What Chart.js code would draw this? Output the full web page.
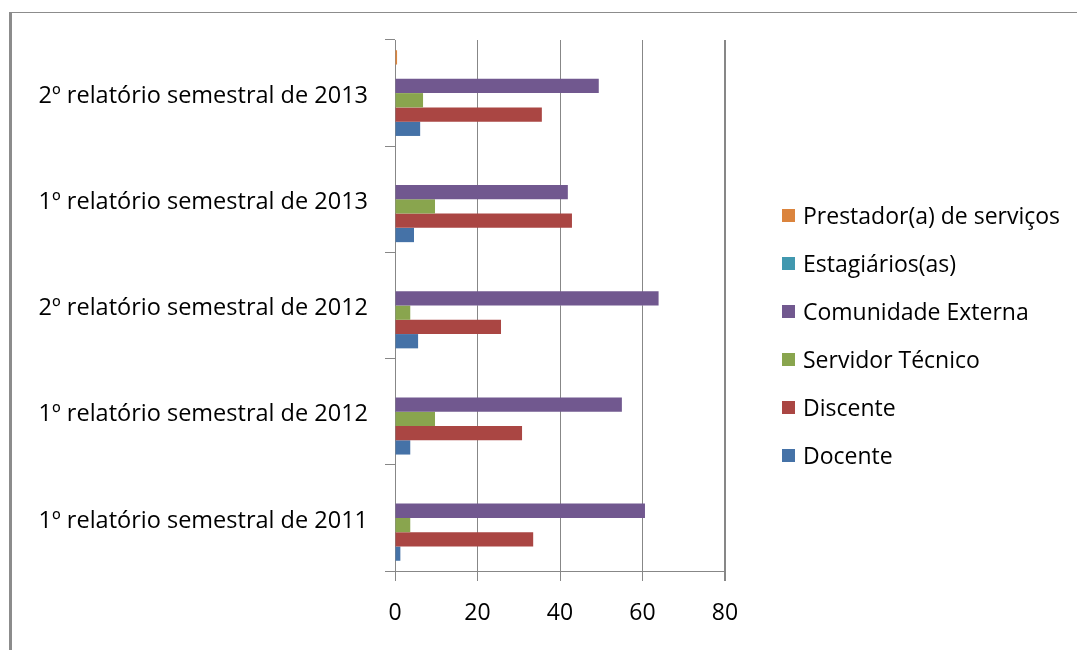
<!DOCTYPE html>
<html lang="pt">
<head>
<meta charset="utf-8">
<title>Relatórios semestrais</title>
<script src="https://cdn.jsdelivr.net/npm/chart.js@4.4.0/dist/chart.umd.min.js"></script>
<style>
    html, body { margin: 0; padding: 0; background: #fff; }
    #frame { position: absolute; left: 0; top: 0; width: 1077px; height: 650px; overflow: hidden; }
    #border { position: absolute; left: 9px; top: 12px; width: 1080px; height: 660px;
              border-left: 3px solid #8c8c8c; border-top: 1px solid #8c8c8c; }
    #wrap { position: absolute; left: 0; top: 0; width: 1077px; height: 650px; }
    #legend { position: absolute; left: 782px; top: 191px; margin: 0; padding: 0; list-style: none;
              font-family: 'Open Sans', sans-serif; font-size: 23px; color: #000; }
    #legend li { height: 48px; display: flex; align-items: center; white-space: nowrap; }
    #legend .box { display: inline-block; width: 13px; height: 13px; margin-right: 8px; }
</style>
</head>
<body>
<div id="frame">
    <div id="border"></div>
    <div id="wrap"><canvas id="chart"></canvas></div>
    <ul id="legend"></ul>
</div>

<script>
    const categories = [
        '1º relatório semestral de 2011',
        '1º relatório semestral de 2012',
        '2º relatório semestral de 2012',
        '1º relatório semestral de 2013',
        '2º relatório semestral de 2013'
    ];

    const docente     = [1.3, 3.7, 5.6, 4.6, 6.1];
    const discente    = [33.5, 30.8, 25.7, 42.9, 35.6];
    const servidor    = [3.7, 9.7, 3.7, 9.7, 6.8];
    const comunidade  = [60.6, 55.0, 63.9, 41.9, 49.4];
    const estagiarios = [0, 0, 0, 0, 0];
    const prestador   = [0, 0, 0, 0, 0.5];

    const xTicks = [0, 20, 40, 60, 80];

    // top bar of each group first, so the legend reads the same way
    const series = [
        { label: 'Prestador(a) de serviços', data: prestador,   color: '#DB843D' },
        { label: 'Estagiários(as)',          data: estagiarios, color: '#4198AF' },
        { label: 'Comunidade Externa',       data: comunidade,  color: '#71588F' },
        { label: 'Servidor Técnico',         data: servidor,    color: '#89A54E' },
        { label: 'Discente',                 data: discente,    color: '#AA4643' },
        { label: 'Docente',                  data: docente,     color: '#4572A7' }
    ];

    Chart.defaults.font.family = "'Open Sans', sans-serif";
    Chart.defaults.color = '#000';

    const gridGray = '#878787';

    const chart = new Chart(document.getElementById('chart'), {
        type: 'bar',
        data: {
            labels: categories,
            datasets: series.map(s => ({
                label: s.label,
                data: s.data,
                backgroundColor: s.color,
                borderWidth: 0,
                categoryPercentage: 0.807,
                barPercentage: 1
            }))
        },
        options: {
            indexAxis: 'y',
            responsive: true,
            maintainAspectRatio: false,
            animation: false,
            layout: { padding: { top: 40, left: 0, right: 352, bottom: 0 } },
            plugins: {
                legend: { display: false },
                tooltip: { enabled: false }
            },
            scales: {
                x: {
                    min: 0,
                    max: 80,
                    afterBuildTicks: s => { s.ticks = xTicks.map(v => ({ value: v })); },
                    afterFit: s => { s.height = 79; },
                    grid: {
                        color: gridGray,
                        lineWidth: c => (c.tick && c.tick.value === 80 ? 2 : 1),
                        tickLength: 10
                    },
                    border: { display: true, color: gridGray, width: 1 },
                    ticks: { font: { size: 23 }, padding: 19, color: '#000' }
                },
                y: {
                    reverse: true,
                    afterFit: s => { s.width = 395; },
                    grid: {
                        drawOnChartArea: false,
                        drawTicks: true,
                        tickLength: 10,
                        color: gridGray,
                        offset: true
                    },
                    border: { display: true, color: gridGray, width: 1 },
                    ticks: { font: { size: 23.5 }, padding: 17, labelOffset: 3, color: '#000' }
                }
            }
        }
    });

    // legend built from the chart's own legend items
    const legendEl = document.getElementById('legend');
    chart.options.plugins.legend.labels.generateLabels(chart).forEach(item => {
        const li = document.createElement('li');
        const box = document.createElement('span');
        box.className = 'box';
        box.style.background = item.fillStyle;
        li.appendChild(box);
        li.appendChild(document.createTextNode(item.text));
        legendEl.appendChild(li);
    });
</script>
</body>
</html>
